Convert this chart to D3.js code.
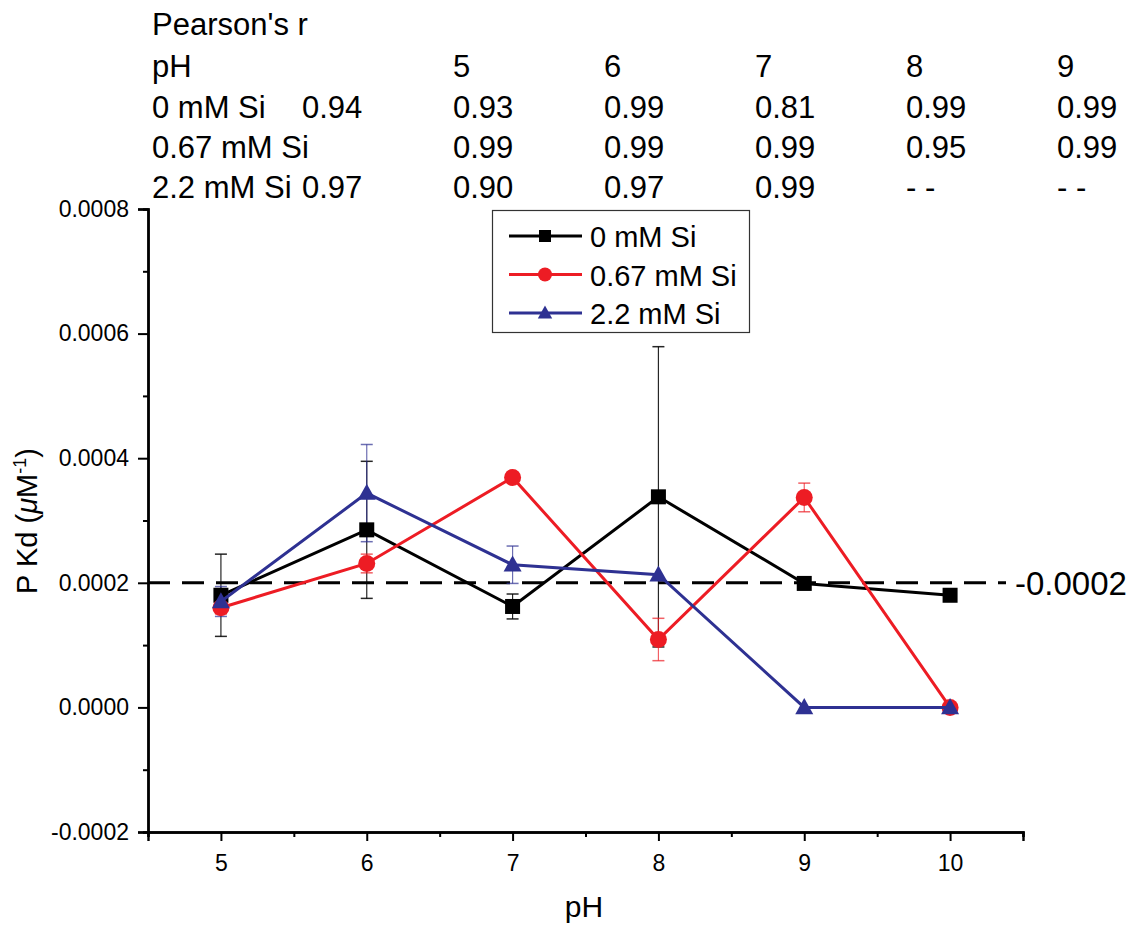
<!DOCTYPE html>
<html>
<head>
<meta charset="utf-8">
<script src="https://cdn.jsdelivr.net/npm/d3@7"></script>
<style>
  body { margin: 0; background: #fff; }
  text { font-family: "Liberation Sans", Arial, sans-serif; fill: #000; }
</style>
</head>
<body>
<div id="chart"></div>
<script>
// data
var phValues = [5, 6, 7, 8, 9, 10];
var seriesNames = ["0 mM Si", "0.67 mM Si", "2.2 mM Si"];
var seriesColors = ["#000000", "#ed1c24", "#2e3192"];
var seriesShapes = ["square", "circle", "triangle"];
var kd0 = [0.000180, 0.000285, 0.000162, 0.000338, 0.000199, 0.000180];
var err0 = [0.000066, 0.000110, 0.000020, 0.000241, 0, 0];
var kd067 = [0.000160, 0.000231, 0.000369, 0.000109, 0.000337, 0.0];
var err067 = [0.000010, 0.000015, 0, 0.000034, 0.000023, 0];
var kd22 = [0.000170, 0.000344, 0.000229, 0.000213, 0.0, 0.0];
var err22 = [0.000024, 0.000078, 0.000030, 0, 0, 0];
var thresholdValue = 0.0002;
var thresholdLabel = "-0.0002";

// Pearson's r table above the plot
var tableHeader = ["5", "6", "7", "8", "9"];
var tableRows = [
  { label: "0 mM Si", overall: "0.94", values: ["0.93", "0.99", "0.81", "0.99", "0.99"] },
  { label: "0.67 mM Si", overall: "", values: ["0.99", "0.99", "0.99", "0.95", "0.99"] },
  { label: "2.2 mM Si", overall: "0.97", values: ["0.90", "0.97", "0.99", "- -", "- -"] }
];

var W = 1137, H = 929;
var m = { left: 148, right: 1023, top: 209, bottom: 832 };

var svg = d3.select("#chart").append("svg")
  .attr("width", W)
  .attr("height", H);

var x = d3.scaleLinear().domain([4.5, 10.5]).range([m.left, m.right]);
var y = d3.scaleLinear().domain([-0.0002, 0.0008]).range([m.bottom, m.top]);

// ---- table
var tbl = svg.append("g").attr("font-size", 31);
var colX = [453, 604, 755, 906, 1057];
var rowY = [35, 77, 118, 158, 198];
tbl.append("text").attr("x", 152).attr("y", rowY[0]).text("Pearson's r");
tbl.append("text").attr("x", 152).attr("y", rowY[1]).text("pH");
tableHeader.forEach(function(h, i) {
  tbl.append("text").attr("x", colX[i]).attr("y", rowY[1]).text(h);
});
tableRows.forEach(function(r, j) {
  tbl.append("text").attr("x", 152).attr("y", rowY[j + 2]).text(r.label);
  if (r.overall) tbl.append("text").attr("x", 302).attr("y", rowY[j + 2]).text(r.overall);
  r.values.forEach(function(v, i) {
    tbl.append("text").attr("x", colX[i]).attr("y", rowY[j + 2]).text(v);
  });
});

// ---- axes
var fmt4 = d3.format(".4f");
var yAxis = d3.axisLeft(y)
  .tickValues([-0.0002, 0, 0.0002, 0.0004, 0.0006, 0.0008])
  .tickFormat(function(d) { return fmt4(d).replace("\u2212", "-"); })
  .tickSize(10)
  .tickPadding(9);
var yMinor = d3.axisLeft(y)
  .tickValues([-0.0001, 0.0001, 0.0003, 0.0005, 0.0007])
  .tickFormat("")
  .tickSize(5);
var xAxis = d3.axisBottom(x)
  .tickValues(phValues)
  .tickFormat(d3.format("d"))
  .tickSize(9)
  .tickPadding(14);
var xMinor = d3.axisBottom(x)
  .tickValues([4.5, 5.5, 6.5, 7.5, 8.5, 9.5, 10.5])
  .tickFormat("")
  .tickSize(5);

function styleAxis(g) {
  g.attr("font-size", 23).attr("font-family", "Liberation Sans, Arial, sans-serif");
  g.select(".domain").attr("stroke-width", 2.4);
  g.selectAll(".tick line").attr("stroke-width", 2);
}

svg.append("g").attr("transform", "translate(" + m.left + ",0)").call(yMinor).call(styleAxis);
svg.append("g").attr("transform", "translate(" + m.left + ",0)").call(yAxis).call(styleAxis);
svg.append("g").attr("transform", "translate(0," + m.bottom + ")").call(xMinor).call(styleAxis);
svg.append("g").attr("transform", "translate(0," + m.bottom + ")").call(xAxis).call(styleAxis);

// axis titles
svg.append("text")
  .attr("x", 584)
  .attr("y", 917)
  .attr("text-anchor", "middle")
  .attr("font-size", 30)
  .text("pH");

var yt = svg.append("text")
  .attr("transform", "translate(37,521) rotate(-90)")
  .attr("text-anchor", "middle")
  .attr("font-size", 29);
yt.append("tspan").text("P Kd (");
yt.append("tspan").attr("font-style", "italic").text("\u03bc");
yt.append("tspan").text("M");
yt.append("tspan").attr("font-size", 18).attr("dy", -11).text("-1");
yt.append("tspan").attr("dy", 11).text(")");

// ---- threshold dashed line
svg.append("line")
  .attr("x1", m.left).attr("x2", 1006)
  .attr("y1", y(thresholdValue)).attr("y2", y(thresholdValue))
  .attr("stroke", "#000")
  .attr("stroke-width", 3)
  .attr("stroke-dasharray", "22,12");
svg.append("text")
  .attr("x", 1015)
  .attr("y", y(thresholdValue) + 12)
  .attr("font-size", 33)
  .text(thresholdLabel);

// ---- series
var series = [
  { values: kd0, errs: err0 },
  { values: kd067, errs: err067 },
  { values: kd22, errs: err22 }
];

function drawMarker(g, shape, color, cx, cy, s) {
  if (shape === "square") {
    g.append("rect").attr("x", cx - s / 2).attr("y", cy - s / 2)
      .attr("width", s).attr("height", s).attr("fill", color);
  } else if (shape === "circle") {
    g.append("circle").attr("cx", cx).attr("cy", cy).attr("r", s / 2 + 1).attr("fill", color);
  } else {
    var h = s * 1.0, w = s * 1.2;
    g.append("path")
      .attr("d", "M" + cx + "," + (cy - h * 0.62) + "L" + (cx + w / 2) + "," + (cy + h * 0.45) +
        "L" + (cx - w / 2) + "," + (cy + h * 0.45) + "Z")
      .attr("fill", color);
  }
}

var line = d3.line()
  .x(function(d, i) { return x(phValues[i]); })
  .y(function(d) { return y(d); });

var plot = svg.append("g");

// error bars first
series.forEach(function(s, k) {
  var eg = plot.append("g").attr("stroke", seriesColors[k]).attr("stroke-opacity", k === 0 ? 0.85 : 0.7);
  s.values.forEach(function(v, i) {
    var e = s.errs[i];
    if (!e) return;
    var cx = x(phValues[i]);
    eg.append("line").attr("x1", cx).attr("x2", cx).attr("y1", y(v + e)).attr("y2", y(v - e)).attr("stroke-width", 1.2);
    [v + e, v - e].forEach(function(yy) {
      eg.append("line").attr("x1", cx - 6).attr("x2", cx + 6).attr("y1", y(yy)).attr("y2", y(yy)).attr("stroke-width", 1.5);
    });
  });
});

series.forEach(function(s, k) {
  plot.append("path")
    .datum(s.values)
    .attr("d", line)
    .attr("fill", "none")
    .attr("stroke", seriesColors[k])
    .attr("stroke-width", 3);
  var mg = plot.append("g");
  s.values.forEach(function(v, i) {
    drawMarker(mg, seriesShapes[k], seriesColors[k], x(phValues[i]), y(v), 15);
  });
});

// ---- legend
var lg = svg.append("g");
lg.append("rect")
  .attr("x", 492.5).attr("y", 210.5)
  .attr("width", 257).attr("height", 122)
  .attr("fill", "#fff")
  .attr("stroke", "#333")
  .attr("stroke-width", 1.2);
seriesNames.forEach(function(name, k) {
  var ly = 236 + k * 38.5;
  lg.append("line")
    .attr("x1", 509).attr("x2", 582)
    .attr("y1", ly).attr("y2", ly)
    .attr("stroke", seriesColors[k]).attr("stroke-width", 2.8);
  drawMarker(lg, seriesShapes[k], seriesColors[k], 545, ly, 12);
  lg.append("text")
    .attr("x", 590).attr("y", ly + 11)
    .attr("font-size", 29)
    .text(name);
});
</script>
</body>
</html>
